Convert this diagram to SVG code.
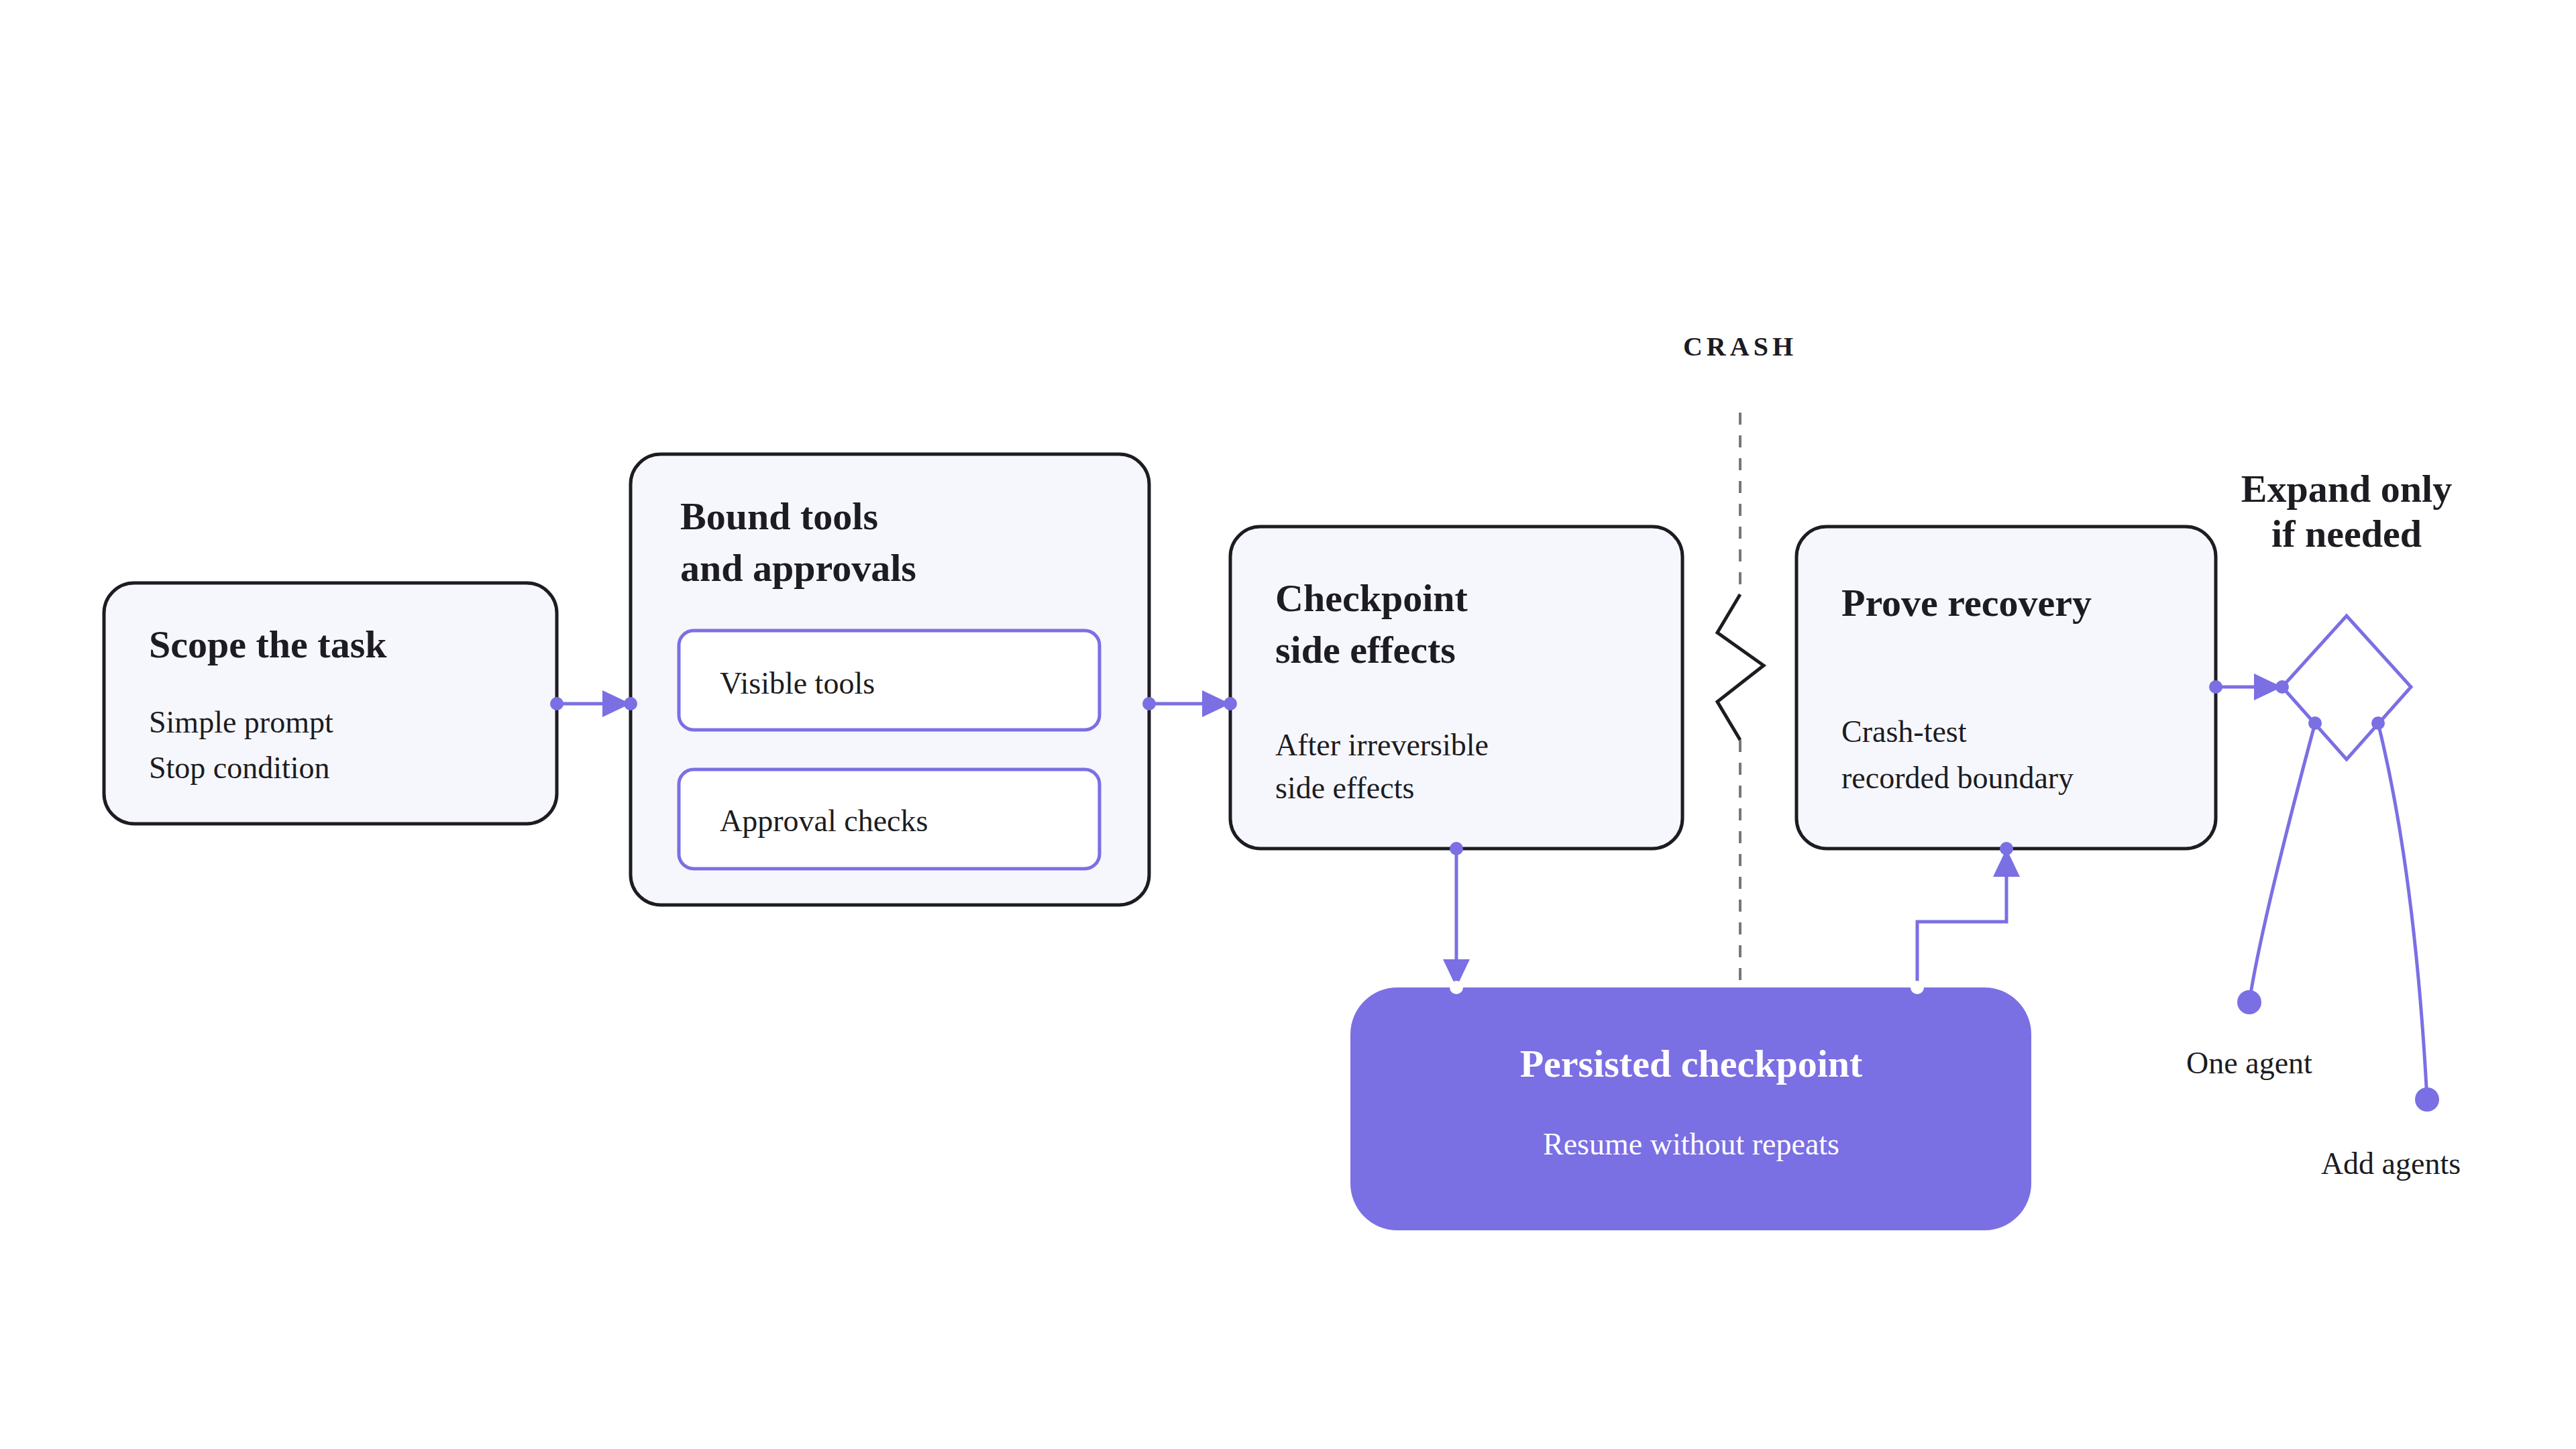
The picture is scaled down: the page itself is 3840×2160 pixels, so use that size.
<svg xmlns="http://www.w3.org/2000/svg" width="3840" height="2160" viewBox="0 0 3840 2160">
<defs>
<style>
.box{fill:#F6F7FC;stroke:#1C1C22;stroke-width:5}
.inner{fill:#FFFFFF;stroke:#7B6FE4;stroke-width:5}
.t{font-family:"Liberation Serif",serif;font-weight:bold;font-size:58px;fill:#1C1C22}
.b{font-family:"Liberation Serif",serif;font-size:46px;fill:#1C1C22}
.w{fill:#FFFFFF}
.c{fill:none;stroke:#7B6FE4;stroke-width:5}
.d{fill:#7B6FE4}
</style>
<marker id="ah" viewBox="0 0 10 10" refX="10" refY="5" markerWidth="10" markerHeight="10" markerUnits="userSpaceOnUse" orient="auto">
<path d="M0,0 L10,5 L0,10 Z" fill="#7B6FE4"/>
</marker>
</defs>
<rect width="3840" height="2160" fill="#FFFFFF"/>
<g id="crash">
<text x="2594" y="530" text-anchor="middle" font-family="Liberation Serif,serif" font-weight="bold" font-size="40" letter-spacing="6" fill="#1C1C22">CRASH</text>
<line x1="2594" y1="615" x2="2594" y2="886" stroke="#777" stroke-width="4" stroke-dasharray="18 16"/>
<line x1="2594" y1="1103" x2="2594" y2="1465" stroke="#777" stroke-width="4" stroke-dasharray="18 16"/>
<polyline points="2594,886 2560,943 2629,992 2560,1046 2594,1103" fill="none" stroke="#1C1C22" stroke-width="5"/>
</g>
<g id="scope">
<rect class="box" x="155" y="869" width="675" height="359" rx="45"/>
<text class="t" x="222" y="980">Scope the task</text>
<text class="b" x="222" y="1092">Simple prompt</text>
<text class="b" x="222" y="1160">Stop condition</text>
</g>
<g id="bound">
<rect class="box" x="940" y="677" width="773" height="672" rx="45"/>
<text class="t" x="1014" y="789">Bound tools</text>
<text class="t" x="1014" y="866">and approvals</text>
<g id="visible"><rect class="inner" x="1012" y="940" width="627" height="148" rx="22"/>
<text class="b" x="1073" y="1034">Visible tools</text></g>
<g id="approval"><rect class="inner" x="1012" y="1147" width="627" height="148" rx="22"/>
<text class="b" x="1073" y="1239">Approval checks</text></g>
</g>
<g id="checkpoint">
<rect class="box" x="1834" y="785" width="674" height="480" rx="45"/>
<text class="t" x="1901" y="911">Checkpoint</text>
<text class="t" x="1901" y="988">side effects</text>
<text class="b" x="1901" y="1126">After irreversible</text>
<text class="b" x="1901" y="1190">side effects</text>
</g>
<g id="prove">
<rect class="box" x="2678" y="785" width="625" height="480" rx="45"/>
<text class="t" x="2745" y="918">Prove recovery</text>
<text class="b" x="2745" y="1106">Crash-test</text>
<text class="b" x="2745" y="1175">recorded boundary</text>
</g>
<g id="persisted">
<rect x="2013" y="1472" width="1015" height="362" rx="70" fill="#7B6FE4"/>
<text class="t w" x="2521" y="1605" text-anchor="middle" font-size="68">Persisted checkpoint</text>
<text class="b w" x="2521" y="1721" text-anchor="middle">Resume without repeats</text>
</g>
<g id="expand">
<text class="t" x="3498" y="748" text-anchor="middle" font-size="48">Expand only</text>
<text class="t" x="3498" y="815" text-anchor="middle" font-size="48">if needed</text>
<polygon points="3402,1024 3498,918 3594,1024 3498,1132" fill="none" stroke="#7B6FE4" stroke-width="5"/>
</g>
<g id="one-agent"><text class="b" x="3353" y="1600" text-anchor="middle">One agent</text></g>
<g id="add-agents"><text class="b" x="3564" y="1750" text-anchor="middle">Add agents</text></g>
<g id="connectors">
<line class="c" x1="830" y1="1049" x2="943" y2="1049" marker-end="url(#ah)" style="marker-end:none"/>
<polygon class="d" points="898,1029 940,1049 898,1069"/>
<circle class="d" cx="830" cy="1049" r="10"/><circle class="d" cx="940" cy="1049" r="10"/>
<line class="c" x1="1713" y1="1049" x2="1834" y2="1049"/>
<polygon class="d" points="1792,1029 1834,1049 1792,1069"/>
<circle class="d" cx="1713" cy="1049" r="10"/><circle class="d" cx="1834" cy="1049" r="10"/>
<line class="c" x1="2171" y1="1265" x2="2171" y2="1472"/>
<polygon class="d" points="2151,1430 2171,1472 2191,1430"/>
<circle class="d" cx="2171" cy="1265" r="10"/><circle cx="2171" cy="1472" r="10" fill="#FFFFFF"/>
<polyline class="c" points="2858,1472 2858,1374 2991,1374 2991,1265"/>
<polygon class="d" points="2971,1307 2991,1265 3011,1307"/>
<circle class="d" cx="2991" cy="1265" r="10"/><circle cx="2858" cy="1472" r="10" fill="#FFFFFF"/>
<line class="c" x1="3303" y1="1024" x2="3402" y2="1024"/>
<polygon class="d" points="3360,1004 3402,1024 3360,1044"/>
<circle class="d" cx="3303" cy="1024" r="10"/><circle class="d" cx="3402" cy="1024" r="10"/>
<circle class="d" cx="3451" cy="1078" r="10"/><circle class="d" cx="3545" cy="1078" r="10"/>
<path class="c" d="M3451,1078 Q3370,1380 3353,1494"/>
<path class="c" d="M3545,1078 Q3600,1300 3618,1639"/>
<circle class="d" cx="3353" cy="1494" r="18"/><circle class="d" cx="3618" cy="1639" r="18"/>
</g>
</svg>
